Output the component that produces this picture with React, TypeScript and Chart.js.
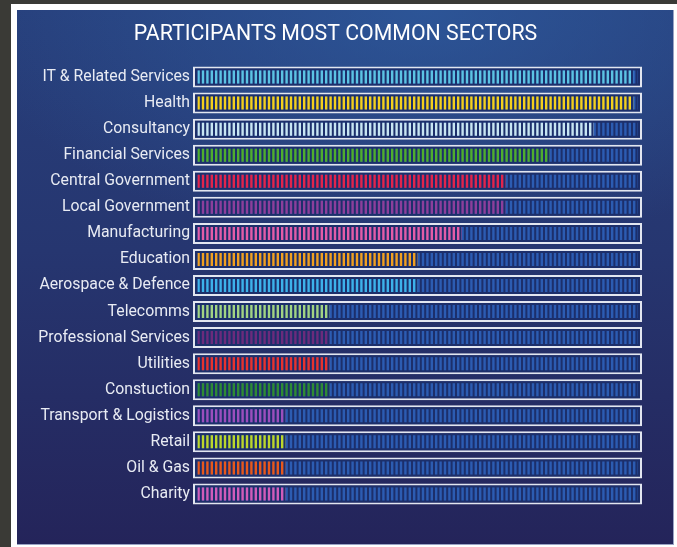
import React, { useEffect, useRef } from "react";
import { Chart, registerables } from "chart.js";

Chart.register(...registerables);

const TITLE = "PARTICIPANTS MOST COMMON SECTORS";

const categories = [
  "IT & Related Services",
  "Health",
  "Consultancy",
  "Financial Services",
  "Central Government",
  "Local Government",
  "Manufacturing",
  "Education",
  "Aerospace & Defence",
  "Telecomms",
  "Professional Services",
  "Utilities",
  "Constuction",
  "Transport & Logistics",
  "Retail",
  "Oil & Gas",
  "Charity",
];

const values = [99, 99, 90, 80, 70, 70, 60, 50, 50, 30, 30, 30, 30, 20, 20, 20, 20];

const barColors = [
  "#5cc3e4",
  "#f4d01c",
  "#c8e6f3",
  "#4fae2e",
  "#e2244c",
  "#8c3f9c",
  "#e35ca8",
  "#f0a020",
  "#3db2ea",
  "#a2d484",
  "#6b2b7c",
  "#e8322e",
  "#2e8b34",
  "#9b4fbd",
  "#bbd72c",
  "#e8581c",
  "#d05cba",
];

const FULL = 100;
const SCALE_MIN = -1;
const SCALE_MAX = 101;

const TRACK_FILL = "#1c2f6b";
const TRACK_STRIPE = "#2c5cb2";
const OUTLINE = "#e2e6f0";

function makeStripePattern(color: string, gap: string): CanvasPattern | string {
  const c = document.createElement("canvas");
  c.width = 22;
  c.height = 1;
  const ctx = c.getContext("2d");
  if (!ctx) return color;
  ctx.fillStyle = gap;
  ctx.fillRect(0, 0, 22, 1);
  ctx.fillStyle = color;
  for (let i = 0; i < 5; i++) {
    ctx.fillRect(i * 4.4, 0, 2.4, 1);
  }
  const p = ctx.createPattern(c, "repeat");
  return p || color;
}

const titlePlugin = {
  id: "customTitle",
  afterDraw(chart: any) {
    const ctx = chart.ctx;
    ctx.save();
    ctx.fillStyle = "#ffffff";
    ctx.font = "21.3px Roboto";
    ctx.textAlign = "center";
    ctx.textBaseline = "middle";
    ctx.fillText(TITLE, 318.5, 24.5);
    ctx.restore();
  },
};

export default function App() {
  const ref = useRef<HTMLCanvasElement | null>(null);

  useEffect(() => {
    document.body.style.margin = "0";
    document.body.style.background = "#3a3a36";
    if (!ref.current) return;

    const valuePatterns = barColors.map((c) => makeStripePattern(c, TRACK_FILL));
    const trackPattern = makeStripePattern(TRACK_STRIPE, TRACK_FILL);

    const chart = new Chart(ref.current, {
      type: "bar",
      data: {
        labels: categories,
        datasets: [
          {
            label: "value",
            data: values,
            backgroundColor: valuePatterns as any,
            borderWidth: 0,
            barThickness: 13,
            grouped: false,
            inflateAmount: 0,
          } as any,
          {
            label: "track",
            data: categories.map(() => FULL),
            backgroundColor: trackPattern as any,
            borderWidth: 0,
            barThickness: 13,
            grouped: false,
            inflateAmount: 0,
          } as any,
          {
            label: "outline",
            data: categories.map(() => [SCALE_MIN, SCALE_MAX]),
            backgroundColor: TRACK_FILL,
            borderColor: OUTLINE,
            borderWidth: 2,
            borderSkipped: false,
            barThickness: 21,
            grouped: false,
            inflateAmount: 0,
          } as any,
        ],
      },
      plugins: [titlePlugin],
      options: {
        indexAxis: "y",
        animation: false,
        responsive: false,
        maintainAspectRatio: false,
        layout: { padding: { left: 0, right: 32, top: 54, bottom: 38 } },
        plugins: {
          legend: { display: false },
          tooltip: { enabled: false },
          title: { display: false },
        },
        scales: {
          x: {
            display: false,
            min: SCALE_MIN,
            max: SCALE_MAX,
          },
          y: {
            grid: { display: false, drawTicks: false },
            border: { display: false },
            ticks: {
              color: "#e8ebf3",
              padding: 3,
              font: { family: "Roboto", size: 15.8 },
            },
            afterFit: (s: any) => {
              s.width = 176;
            },
          },
        },
      },
    });
    return () => chart.destroy();
  }, []);

  return (
    <div style={{ position: "relative", width: 677, height: 547 }}>
      <div
        style={{
          position: "absolute",
          left: 11,
          top: 4,
          width: 666,
          height: 543,
          background: "#ffffff",
        }}
      />
      <div
        style={{
          position: "absolute",
          left: 17,
          top: 10,
          width: 657,
          height: 535,
          background:
            "radial-gradient(ellipse 70% 45% at 62% 0%, rgba(46,92,160,0.75) 0%, rgba(46,92,160,0) 100%), linear-gradient(to bottom, #273f7b 0%, #263670 45%, #24245a 100%)",
          borderRight: "1px solid #9aa3c4",
          borderBottom: "1px solid #9aa3c4",
          boxSizing: "border-box",
        }}
      >
        <canvas ref={ref} width={657} height={535} style={{ display: "block" }} />
      </div>
    </div>
  );
}
